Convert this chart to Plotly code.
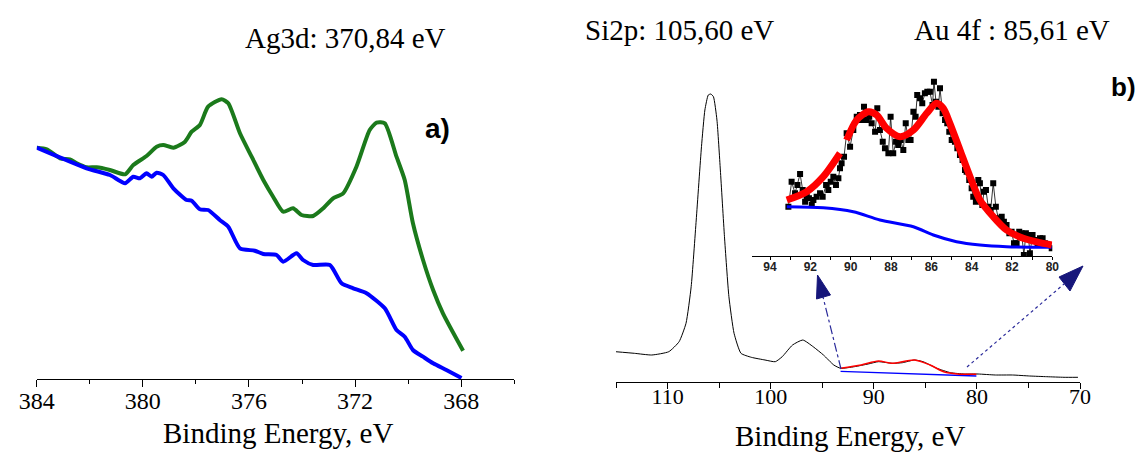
import plotly.graph_objects as go

W, H = 1140, 452

# ---------------- Panel a: Ag3d ----------------
a_green_ev = [384.0, 383.62, 383.12, 382.75, 382.49, 382.12, 381.74, 381.24, 380.67, 380.36,
              379.86, 379.48, 379.23, 378.85, 378.41, 378.16, 377.85, 377.54, 377.03, 376.78,
              376.34, 375.90, 375.46, 375.09, 374.71, 374.34, 374.02, 373.58, 373.20, 372.83,
              372.45, 371.95, 371.45, 371.19, 370.88, 370.44, 370.13, 369.82, 369.44, 369.06,
              368.69, 367.93]
a_green_int = [231.3, 229.7, 220.7, 219.7, 215.7, 211.7, 211.7, 209.0, 204.7, 214.0,
               223.0, 232.3, 234.0, 231.3, 237.3, 247.3, 254.0, 272.3, 279.7, 275.7,
               245.7, 222.3, 199.0, 182.3, 167.3, 170.7, 164.0, 163.0, 170.7, 180.7,
               185.7, 212.3, 249.0, 256.3, 255.7, 222.3, 199.0, 155.7, 119.0, 89.0,
               65.7, 28.3]

a_blue_ev = [384.0, 382.12, 381.24, 380.67, 380.36, 380.11, 379.86, 379.67, 379.48, 379.23,
             378.85, 378.35, 378.16, 377.85, 377.54, 377.10, 376.78, 376.34, 375.78, 375.46,
             374.96, 374.71, 374.21, 373.96, 373.58, 372.95, 372.51, 372.07, 371.57, 370.88,
             370.44, 370.13, 369.82, 369.44, 369.06, 368.56, 367.99]
a_blue_int = [231.3, 210.7, 204.0, 195.7, 202.3, 200.7, 205.7, 202.3, 206.3, 204.0,
              190.7, 179.0, 178.3, 169.7, 169.0, 159.0, 152.3, 130.7, 128.3, 125.0,
              124.0, 117.3, 125.7, 119.0, 114.0, 114.0, 95.7, 90.7, 85.7, 70.7,
              49.0, 42.3, 29.0, 22.3, 15.7, 9.0, 1.0]

a_ticks = [384, 380, 376, 372, 368]

# ---------------- Panel b: survey (Si2p / Au4f) ----------------
b_ev = [115.05, 113.22, 111.54, 109.88, 108.88, 108.21, 107.71, 107.22, 106.71, 106.38,
        106.05, 105.81, 105.55, 105.21, 104.88, 104.48, 104.05, 103.55, 102.88, 101.88,
        100.55, 99.55, 98.88, 97.88, 96.88, 95.88, 94.88, 93.88, 93.22, 91.88,
        90.55, 89.55, 88.22, 87.22, 86.05, 85.21, 83.88, 82.55, 81.22, 79.88,
        78.21, 76.55, 74.88, 73.22, 71.55, 70.2]
b_int = [30.3, 28.7, 27.0, 30.3, 40.3, 58.7, 95.3, 162.0, 235.3, 272.0,
         287.0, 288.0, 285.3, 262.0, 212.0, 145.3, 85.3, 48.7, 28.7, 24.7,
         22.0, 20.3, 25.3, 37.0, 42.0, 35.3, 27.0, 17.0, 13.7, 15.3,
         18.0, 20.3, 18.7, 19.3, 22.0, 20.3, 13.7, 9.3, 8.0, 8.0,
         7.0, 7.0, 6.0, 5.3, 4.7, 4.7]

b_fit_ev = [93.22, 91.22, 89.55, 88.22, 86.05, 84.55, 83.22, 81.88, 80.05]
b_fit_int = [13.7, 17.0, 21.0, 18.7, 22.0, 17.0, 10.3, 8.0, 7.7]

b_bg_ev = [93.22, 80.05]
b_bg_int = [10.6, 6.0]

b_ticks = [110, 100, 90, 80, 70]

# ---------------- Inset: Au 4f ----------------
in_ev = [93.09, 92.93, 92.76, 92.64, 92.51, 92.38, 92.26, 92.18, 92.07, 91.93,
         91.85, 91.69, 91.52, 91.39, 91.22, 91.11, 90.99, 90.86, 90.73, 90.61,
         90.53, 90.45, 90.33, 90.20, 90.03, 89.87, 89.70, 89.54, 89.46, 89.34,
         89.21, 89.08, 88.96, 88.79, 88.68, 88.55, 88.41, 88.30, 88.13, 88.02,
         87.89, 87.75, 87.64, 87.52, 87.39, 87.27, 87.14, 87.03, 86.89, 86.78,
         86.70, 86.56, 86.45, 86.32, 86.20, 86.07, 85.94, 85.87, 85.77, 85.65,
         85.57, 85.44, 85.32, 85.21, 85.11, 84.99, 84.83, 84.71, 84.58, 84.45,
         84.33, 84.25, 84.12, 84.00, 83.92, 83.79, 83.67, 83.59, 83.47, 83.39,
         83.29, 83.18, 83.06, 82.93, 82.80, 82.68, 82.51, 82.40, 82.27, 82.13,
         82.02, 81.90, 81.77, 81.64, 81.52, 81.41, 81.31, 81.19, 81.11, 80.98,
         80.86, 80.73, 80.61, 80.48, 80.37, 80.20, 80.03]
in_int = [48.3, 73.3, 61.7, 70.0, 81.0, 65.0, 53.3, 58.3, 56.7, 50.0,
          55.0, 58.3, 61.7, 58.3, 70.0, 65.0, 73.3, 78.3, 70.0, 76.7,
          86.7, 91.7, 98.3, 121.7, 108.3, 125.0, 138.3, 140.0, 135.0, 148.3,
          135.0, 138.3, 131.7, 123.3, 146.7, 125.0, 113.3, 106.7, 101.7, 138.3,
          101.7, 113.3, 110.0, 115.0, 105.0, 131.7, 115.0, 115.0, 143.3, 138.3,
          160.0, 156.7, 151.7, 161.7, 163.3, 163.3, 150.0, 173.3, 153.3, 148.3,
          166.7, 141.7, 135.0, 131.7, 123.3, 115.0, 113.3, 106.7, 100.0, 95.0,
          85.0, 83.3, 75.0, 66.7, 58.3, 53.3, 75.0, 71.7, 50.0, 63.3,
          65.0, 48.3, 45.0, 71.7, 48.3, 36.7, 38.3, 33.3, 30.0, 21.7,
          23.3, 11.7, 11.7, 23.3, 21.7, 0.0, 21.7, 20.0, 1.7, 20.0,
          15.0, 10.0, 16.7, 16.7, 11.7, 10.0, 6.7]

in_fit_ev = [93.17, 92.18, 91.36, 90.53, None, 90.20, 89.70, 89.12, 88.71, 88.22,
             87.55, 86.89, 86.23, 85.74, 85.41, 85.08, 84.58, 84.08, 83.59, 82.93,
             82.27, 81.44, 80.61, 80.03]
in_fit_int = [55.0, 63.3, 78.3, 101.7, None, 115.0, 135.0, 143.3, 140.0, 126.7,
              118.3, 125.0, 141.7, 151.7, 146.7, 131.7, 105.0, 78.3, 55.0, 38.3,
              25.0, 16.7, 12.3, 10.0]

in_bg_ev = [93.17, 91.36, 89.87, 88.55, 86.89, 85.90, 84.75, 83.59, 82.27, 80.03]
in_bg_int = [48.3, 47.3, 43.3, 35.0, 28.3, 20.0, 13.3, 10.0, 8.3, 7.7]

in_ticks = [94, 92, 90, 88, 86, 84, 82, 80]


def px(x):
    return x / W


def py(y):
    return 1 - y / H


GREEN = "#1b7a1b"
BLUE = "#0000ff"
NAVY = "#16167a"
SERIF = "Liberation Serif, Times New Roman, serif"
SANS = "Liberation Sans, Arial, sans-serif"

fig = go.Figure()

fig.add_trace(go.Scatter(x=a_green_ev, y=a_green_int, mode="lines",
                         line=dict(color=GREEN, width=4, shape="spline", smoothing=0.6),
                         xaxis="x", yaxis="y", showlegend=False))
fig.add_trace(go.Scatter(x=a_blue_ev, y=a_blue_int, mode="lines",
                         line=dict(color=BLUE, width=4, shape="spline", smoothing=0.6),
                         xaxis="x", yaxis="y", showlegend=False))

fig.add_trace(go.Scatter(x=b_ev, y=b_int, mode="lines",
                         line=dict(color="black", width=1, shape="spline", smoothing=0.5),
                         xaxis="x2", yaxis="y2", showlegend=False))
fig.add_trace(go.Scatter(x=b_bg_ev, y=b_bg_int, mode="lines",
                         line=dict(color=BLUE, width=1.3),
                         xaxis="x2", yaxis="y2", showlegend=False))
fig.add_trace(go.Scatter(x=b_fit_ev, y=b_fit_int, mode="lines",
                         line=dict(color="red", width=1.5, shape="spline", smoothing=0.8),
                         xaxis="x2", yaxis="y2", showlegend=False))

fig.add_trace(go.Scatter(x=in_ev, y=in_int, mode="lines+markers",
                         line=dict(color="black", width=0.8),
                         marker=dict(symbol="square", size=6, color="black"),
                         xaxis="x3", yaxis="y3", showlegend=False))
fig.add_trace(go.Scatter(x=in_bg_ev, y=in_bg_int, mode="lines",
                         line=dict(color=BLUE, width=3, shape="spline", smoothing=0.8),
                         xaxis="x3", yaxis="y3", showlegend=False))
fig.add_trace(go.Scatter(x=in_fit_ev, y=in_fit_int, mode="lines",
                         line=dict(color="red", width=7, shape="spline", smoothing=0.8),
                         connectgaps=False,
                         xaxis="x3", yaxis="y3", showlegend=False))

axis_common = dict(showgrid=False, zeroline=False, showline=True, linecolor="black",
                   linewidth=1, ticks="outside", tickcolor="black", tickwidth=1,
                   automargin=False, fixedrange=True)

fig.update_layout(
    width=W, height=H, margin=dict(l=0, r=0, t=0, b=0, autoexpand=False),
    paper_bgcolor="white", plot_bgcolor="rgba(0,0,0,0)",
    xaxis=dict(domain=[px(36.7), px(514.3)], range=[384, 366], anchor="y",
               tickvals=a_ticks, ticklen=7, ticklabelstandoff=-7,
               minor=dict(dtick=2, ticklen=4, tickcolor="black", ticks="outside"),
               tickfont=dict(family=SERIF, size=24, color="black"), **axis_common),
    yaxis=dict(domain=[py(379), py(60)], range=[0, 319], visible=False, automargin=False),
    xaxis2=dict(domain=[px(616), px(1080)], range=[115, 70], anchor="y2",
                tickvals=b_ticks, ticklen=6, ticklabelstandoff=-11,
                minor=dict(dtick=5, ticklen=5, tickcolor="black", ticks="outside"),
                tickfont=dict(family=SERIF, size=22, color="black"), **axis_common),
    yaxis2=dict(domain=[py(382), py(60)], range=[0, 322], visible=False, automargin=False),
    xaxis3=dict(domain=[px(752.3), px(1052.3)], range=[94.88, 80], anchor="y3",
                tickvals=in_ticks, ticklen=3, ticklabelstandoff=-3,
                minor=dict(dtick=1, ticklen=3, tickcolor="black", ticks="outside"),
                tickfont=dict(family=SANS, size=12, color="#222", weight="bold"), **axis_common),
    yaxis3=dict(domain=[py(256), py(70)], range=[-1, 185], visible=False, automargin=False),
)

annotations = [
    dict(text="Ag3d: 370,84 eV", x=px(345), y=py(38), font=dict(family=SERIF, size=29, color="black")),
    dict(text="Si2p: 105,60 eV", x=px(679.5), y=py(30), font=dict(family=SERIF, size=29, color="black")),
    dict(text="Au 4f : 85,61 eV", x=px(1012), y=py(30), font=dict(family=SERIF, size=29, color="black")),
    dict(text="<b>a)</b>", x=px(438), y=py(128.5), font=dict(family=SANS, size=28, color="black")),
    dict(text="<b>b)</b>", x=px(1123), y=py(87), font=dict(family=SANS, size=26, color="black")),
    dict(text="Binding Energy, eV", x=px(278), y=py(433), font=dict(family=SERIF, size=29, color="black")),
    dict(text="Binding Energy, eV", x=px(850), y=py(436), font=dict(family=SERIF, size=29, color="black")),
]
for a in annotations:
    a.update(xref="paper", yref="paper", showarrow=False, xanchor="center", yanchor="middle")
fig.update_layout(annotations=annotations)

# connector arrows (paper coordinates)
shapes = [
    dict(type="line", x0=px(841), y0=py(369), x1=px(822), y1=py(293),
         line=dict(color="#2a2a9a", width=1.2, dash="dashdot")),
    dict(type="line", x0=px(967), y0=py(367), x1=px(1064), y1=py(284),
         line=dict(color="#2a2a9a", width=1.2, dash="dot")),
    dict(type="path",
         path=f"M {px(817.5)} {py(275)} L {px(816.5)} {py(299)} L {px(830.5)} {py(295)} Z",
         fillcolor=NAVY, line=dict(color=NAVY, width=1)),
    dict(type="path",
         path=f"M {px(1083)} {py(266)} L {px(1059)} {py(277)} L {px(1070)} {py(291)} Z",
         fillcolor=NAVY, line=dict(color=NAVY, width=1)),
]
for s in shapes:
    s.update(xref="paper", yref="paper")
fig.update_layout(shapes=shapes)

fig.write_html("out.html", config={"displayModeBar": False})
